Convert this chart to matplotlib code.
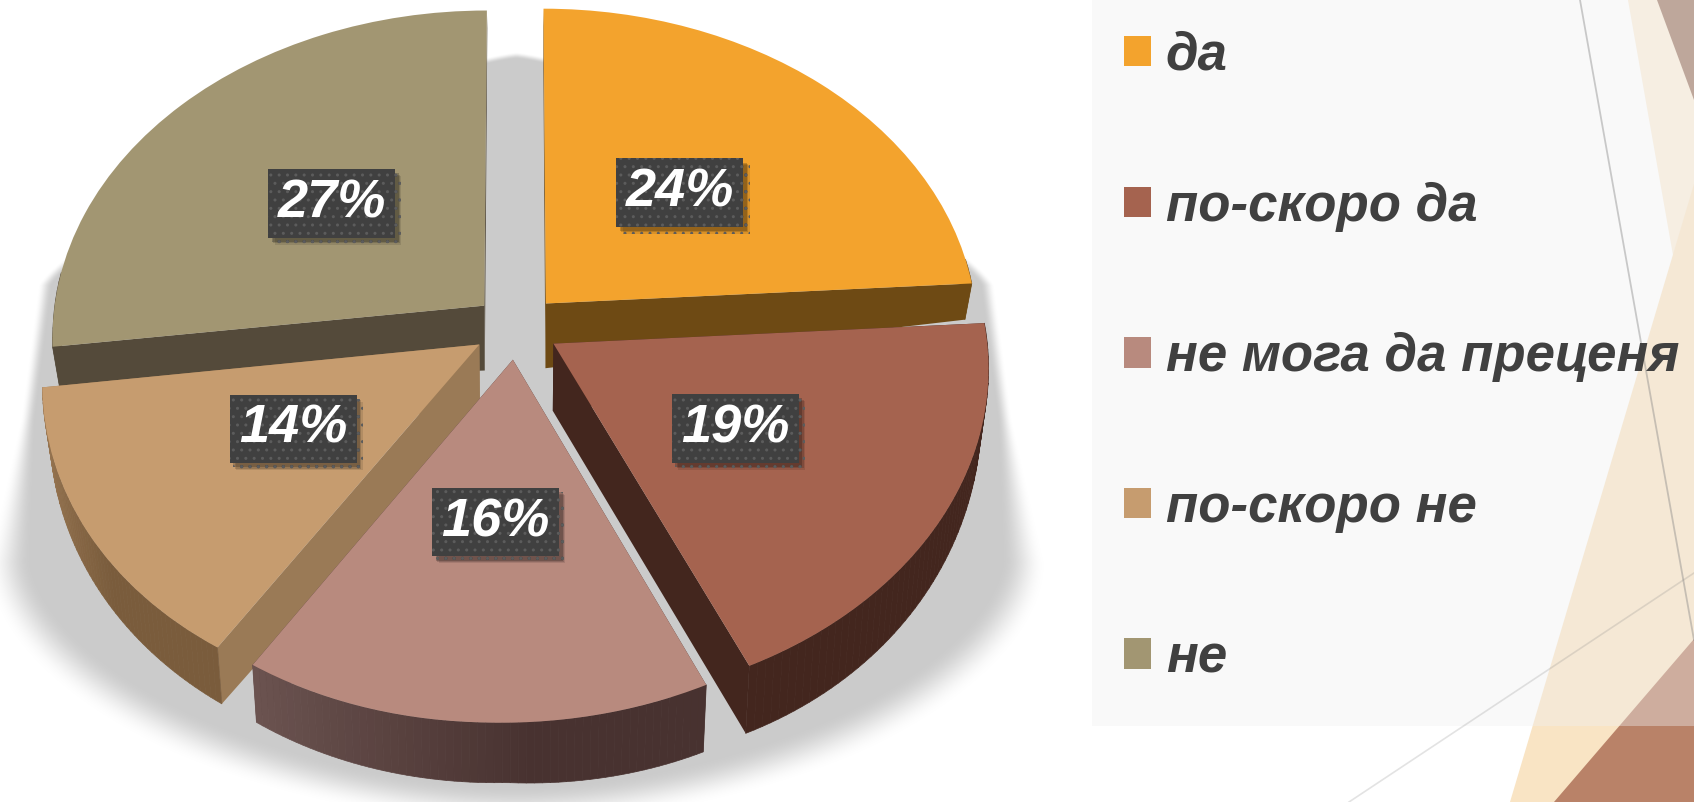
import matplotlib
matplotlib.use('Agg')
import matplotlib.pyplot as plt
import matplotlib.patheffects as pe
from matplotlib.collections import PolyCollection
from matplotlib.colors import to_rgb
from matplotlib.font_manager import FontProperties
from matplotlib.patches import Polygon, Rectangle
from matplotlib.transforms import Affine2D, Transform
import numpy as np

labels = ['да', 'по-скоро да', 'не мога да преценя', 'по-скоро не', 'не']
values = [24, 19, 16, 14, 27]
top_colors = ['#f3a32d', '#a5634f', '#b88a7e', '#c69c6f', '#a29672']
cut_colors = ['#6e4a14', '#43261e', '#48322f', '#9a7a56', '#544a3a']
rim_start = ['#6e4a14', '#43261e', '#6b5350', '#a07d58', '#544a3a']
rim_end = ['#6e4a14', '#43261e', '#483230', '#7a5c3c', '#544a3a']
draw_order = [4, 0, 3, 1, 2]
label_nudge = [(-2, 2), (0, -3), (1, 3), (-3, 3), (-3, 3)]

W, H = 1694, 802
CX, CY, RX, RY, K = 516.5, 327, 432, 324.7, 0.088


# flat pie coordinates -> pixels, with a bit of perspective (front is bigger)
def project(xy, z=0.0):
    x, y = xy[:, 0], xy[:, 1]
    w = 1 / (1 + K * y)
    low = np.minimum(y, 0)
    depth = 69 - 28 * np.hypot(x, y) - 20 * y - 20 * np.maximum(x, 0) * low
    px = CX + RX * x * w * (1 - 0.015 * z) + 9 * low
    py = CY - RY * y * w + 7 * np.minimum(x, 0) * low + depth * z
    return np.column_stack([px, py])


class Persp(Transform):
    input_dims = 2
    output_dims = 2
    is_separable = False
    has_inverse = False

    def transform_non_affine(self, values):
        return project(np.asarray(values, dtype=float))


plt.rcParams['font.family'] = ['Liberation Sans', 'DejaVu Sans']
font = FontProperties(family='Liberation Sans', weight='bold', style='italic', size=38)

fig = plt.figure(figsize=(W / 100, H / 100), dpi=100)
ax = fig.add_axes([0, 0, 1, 1])

wedges, _, autotexts = ax.pie(values, colors=top_colors, explode=[0.1] * 5, startangle=90,
                              counterclock=False, autopct='%d%%', pctdistance=0.48,
                              labeldistance=None, wedgeprops=dict(lw=0))
ax.set_aspect('auto')
ax.axis('off')
proj = Persp() + ax.transData

# background shapes of the slide
ax.add_patch(Polygon([(1628, 0), (1694, 0), (1694, 374)], fc='#faedd9', ec='none', zorder=0))
ax.add_patch(Polygon([(1510, 802), (1694, 184), (1694, 802)], fc='#f9e4c4', ec='none', zorder=0.1))
ax.add_patch(Polygon([(1657, 0), (1694, 0), (1694, 100)], fc='#9e7864', ec='none', zorder=0.2))
ax.add_patch(Polygon([(1554, 802), (1694, 639), (1694, 802)], fc='#b98268', ec='none', zorder=0.2))
ax.add_patch(Rectangle((1091.5, 0), W - 1091.5, 726, fc='#f0f0f0', alpha=0.4, ec='none', zorder=0.3))
ax.plot([1580, 1694], [0, 640], color='#808080', alpha=0.4, lw=1.3, zorder=0.4)
ax.plot([1349, 1694], [802, 573], color='#808080', alpha=0.22, lw=1.2, zorder=0.4)

# soft shadow under the pie
yy, xx = np.mgrid[0:H, 0:W]
half = np.minimum(460 + (yy - 200) * 0.13, 507)
u = np.abs(xx - 516) / half
lower = np.clip((yy - 560) / 245, 0, None)
upper = np.clip((285 - yy) / 230, 0, None)
r = (u ** 1.8 + lower ** 1.8) ** (1 / 1.8)
r = np.where(yy < 285, (u ** 1.3 + upper ** 1.3) ** (1 / 1.3), r)
soft = 0.03 + 0.13 * np.clip((yy - 420) / 330, 0, 1)
alpha = np.clip((1 + soft / 2 - r) / soft, 0, 1)
alpha = alpha * alpha * (3 - 2 * alpha)
shadow = np.zeros((H, W, 4))
shadow[..., :3] = 0xcb / 255
shadow[..., 3] = alpha
ax.imshow(shadow, extent=(0, W, H, 0), aspect='auto', zorder=0.5, interpolation='nearest')
ax.set_xlim(0, W)
ax.set_ylim(H, 0)

# extruded sides, back slices first
for n, i in enumerate(draw_order):
    w = wedges[i]
    base = 1 + n
    cx0, cy0 = w.center
    t = np.radians(np.linspace(w.theta1, w.theta2, 60))
    arc = np.column_stack([cx0 + w.r * np.cos(t), cy0 + w.r * np.sin(t)])
    tip = np.array([[cx0, cy0]])

    for end in (arc[:1], arc[-1:]):
        face = np.vstack([project(tip), project(end), project(end, 1), project(tip, 1)])
        ax.add_patch(Polygon(face, fc=cut_colors[i], ec='none', lw=0, zorder=base))

    top, bottom = project(arc), project(arc, 1)
    quads = [np.vstack([top[j], top[j + 1], bottom[j + 1], bottom[j]]) for j in range(len(arc) - 1)]
    mix = np.clip(np.linspace(0, 1.6, len(quads)), 0, 1)[:, None]
    rim = (1 - mix) * np.array(to_rgb(rim_start[i])) + mix * np.array(to_rgb(rim_end[i]))
    # the back of the rim is hidden by the top face
    front = np.sin(t[:-1]) < 0.12
    quads = [q for q, keep in zip(quads, front) if keep]
    ax.add_collection(PolyCollection(quads, facecolors=rim[front], edgecolors=rim[front],
                                     linewidths=0.5, zorder=base + 0.1))

    w.set_transform(proj)
    w.set_zorder(base + 0.2)

# percentage boxes
for i, txt in enumerate(autotexts):
    txt.set_transform(proj + Affine2D().translate(*label_nudge[i]))
    txt.set_fontproperties(FontProperties(family='Liberation Sans', weight='bold', style='italic', size=39))
    txt.set_color('white')
    txt.set_zorder(10)
    txt.set_bbox(dict(boxstyle='square,pad=0.17', fc='#404040', ec='#5c5c5c', lw=0, hatch='..'))
    txt.get_bbox_patch().set_path_effects([
        pe.SimplePatchShadow(offset=(4.5, -5), shadow_rgbFace='k', alpha=0.1),
        pe.SimplePatchShadow(offset=(3.5, -4), shadow_rgbFace='k', alpha=0.15),
        pe.SimplePatchShadow(offset=(2.5, -3), shadow_rgbFace='k', alpha=0.2),
        pe.Normal()])

leg = ax.legend(wedges, labels, prop=font, frameon=False, loc='upper left',
                bbox_to_anchor=(1124, 31), bbox_transform=ax.transData,
                borderaxespad=0, borderpad=0, handlelength=0.51, handleheight=0.51,
                handletextpad=0.28, labelspacing=1.905, labelcolor='#404040')
leg.set_zorder(10)

fig.savefig('out.png', dpi=100)
